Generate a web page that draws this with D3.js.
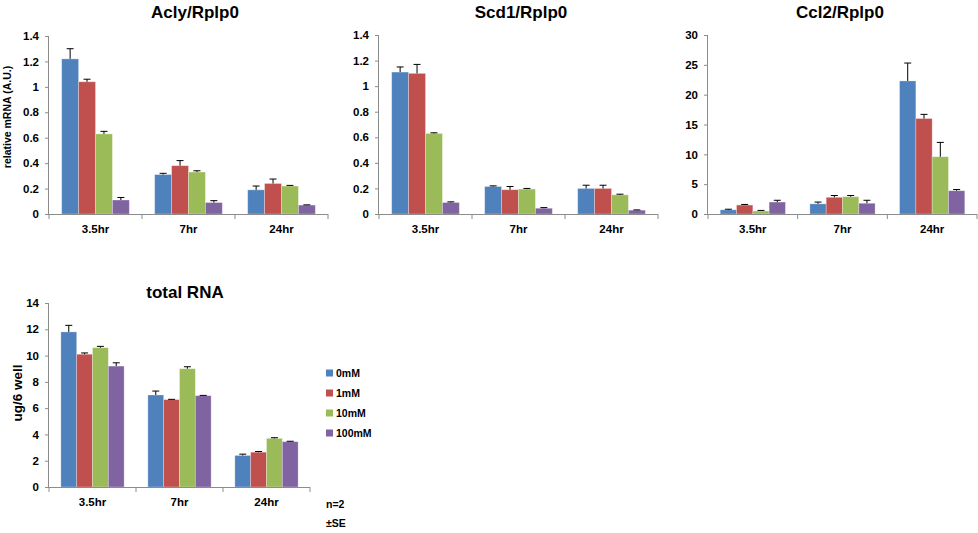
<!DOCTYPE html>
<html>
<head>
<meta charset="utf-8">
<script src="https://cdn.jsdelivr.net/npm/d3@7"></script>
<style>
  body { margin: 0; background: #fff; }
  svg { font-family: "Liberation Sans", Arial, sans-serif; font-weight: bold; }
</style>
</head>
<body>
<svg id="svg" width="978" height="533"></svg>
<script>
const categories = ["3.5hr", "7hr", "24hr"];
const series = ["0mM", "1mM", "10mM", "100mM"];
const colors = ["#4F81BD", "#C0504D", "#9BBB59", "#8064A2"];

// values per category, one per series; err = top of error bar
const aclyValues = [[1.22, 1.04, 0.63, 0.11], [0.31, 0.38, 0.33, 0.09], [0.19, 0.24, 0.22, 0.07]];
const aclyErr = [[1.30, 1.06, 0.65, 0.13], [0.32, 0.42, 0.34, 0.105], [0.22, 0.275, 0.225, 0.072]];
const scdValues = [[1.11, 1.10, 0.63, 0.09], [0.215, 0.19, 0.195, 0.045], [0.20, 0.20, 0.15, 0.03]];
const scdErr = [[1.15, 1.17, 0.635, 0.095], [0.22, 0.215, 0.20, 0.05], [0.225, 0.225, 0.155, 0.032]];
const ccl2Values = [[0.7, 1.5, 0.5, 2.0], [1.7, 2.8, 2.9, 1.8], [22.3, 16.0, 9.6, 3.9]];
const ccl2Err = [[0.8, 1.6, 0.6, 2.3], [2.0, 3.1, 3.1, 2.3], [25.3, 16.7, 12.0, 4.1]];
const rnaValues = [[11.8, 10.1, 10.6, 9.2], [7.0, 6.65, 9.0, 6.95], [2.4, 2.65, 3.7, 3.45]];
const rnaErr = [[12.3, 10.2, 10.7, 9.45], [7.3, 6.67, 9.15, 6.97], [2.5, 2.7, 3.75, 3.48]];

const svg = d3.select("#svg");

function drawPanel(p) {
  const g = svg.append("g");

  const x0 = d3.scaleBand().domain(categories).range([p.x0, p.x1]).padding(0);
  const x1 = d3.scaleBand().domain(series).range([0, x0.bandwidth()]).paddingInner(0).paddingOuter(0.75);
  const y = d3.scaleLinear().domain([0, p.max]).range([p.y0, p.y1]);

  // bars
  const groups = g.selectAll("g.cat")
    .data(categories)
    .enter()
    .append("g")
    .attr("transform", c => `translate(${x0(c)},0)`);

  groups.each(function (c, ci) {
    const grp = d3.select(this);
    const rows = series.map((s, si) => ({ s: s, si: si, v: p.values[ci][si], e: p.err[ci][si] }));
    grp.selectAll("rect")
      .data(rows)
      .enter()
      .append("rect")
      .attr("x", d => x1(d.s))
      .attr("y", d => y(d.v))
      .attr("width", x1.bandwidth())
      .attr("height", d => y(0) - y(d.v))
      .attr("fill", d => colors[d.si])
      .attr("stroke", "rgba(255,255,255,0.35)")
      .attr("stroke-width", 0.8);

    // error bars (upper only)
    const eb = grp.selectAll("g.err")
      .data(rows)
      .enter()
      .append("g")
      .attr("stroke", "#000")
      .attr("stroke-width", 1);
    eb.append("line")
      .attr("x1", d => x1(d.s) + x1.bandwidth() / 2)
      .attr("x2", d => x1(d.s) + x1.bandwidth() / 2)
      .attr("y1", d => y(d.v))
      .attr("y2", d => y(d.e));
    eb.append("line")
      .attr("x1", d => x1(d.s) + x1.bandwidth() / 2 - 3.5)
      .attr("x2", d => x1(d.s) + x1.bandwidth() / 2 + 3.5)
      .attr("y1", d => y(d.e))
      .attr("y2", d => y(d.e));
  });

  // y axis
  const yAxis = d3.axisLeft(y).tickValues(p.ticks).tickSize(4).tickPadding(6)
    .tickFormat(d => String(+d.toFixed(1)));
  const ya = g.append("g").attr("transform", `translate(${p.x0},0)`).call(yAxis);
  ya.select(".domain").attr("stroke", "#8c8c8c").attr("d", `M-0.5,${p.y0}V${p.y1}`);
  ya.selectAll(".tick line").attr("stroke", "#8c8c8c");
  ya.selectAll(".tick text").attr("fill", "#000").style("font-size", "11.5px").style("font-weight", "bold")
    .style("font-family", "'Liberation Sans', Arial, sans-serif");

  // x axis
  g.append("line")
    .attr("x1", p.x0).attr("x2", p.x1)
    .attr("y1", p.y0 + 0.5).attr("y2", p.y0 + 0.5)
    .attr("stroke", "#8c8c8c");
  g.selectAll("line.xt")
    .data(categories.concat(["end"]))
    .enter()
    .append("line")
    .attr("x1", (c, i) => i < categories.length ? x0(c) : p.x1)
    .attr("x2", (c, i) => i < categories.length ? x0(c) : p.x1)
    .attr("y1", p.y0)
    .attr("y2", p.y0 + 5)
    .attr("stroke", "#8c8c8c");
  g.selectAll("text.xl")
    .data(categories)
    .enter()
    .append("text")
    .attr("x", c => x0(c) + x0.bandwidth() / 2)
    .attr("y", p.y0 + 19)
    .attr("text-anchor", "middle")
    .style("font-size", "11.5px")
    .text(c => c);

  // title
  g.append("text")
    .attr("x", p.tx)
    .attr("y", p.ty)
    .attr("text-anchor", "middle")
    .style("font-size", "17px")
    .text(p.title);

  if (p.ylabel) {
    g.append("text")
      .attr("transform", `translate(${p.lx},${p.ly}) rotate(-90)`)
      .attr("text-anchor", "middle")
      .style("font-size", p.lsize)
      .text(p.ylabel);
  }
}

drawPanel({ title: "Acly/Rplp0", values: aclyValues, err: aclyErr, max: 1.4,
  ticks: [0, 0.2, 0.4, 0.6, 0.8, 1, 1.2, 1.4], x0: 49, x1: 328, y0: 214, y1: 36, tx: 195, ty: 18,
  ylabel: "relative mRNA (A.U.)", lx: 11, ly: 117, lsize: "10.5px" });
drawPanel({ title: "Scd1/Rplp0", values: scdValues, err: scdErr, max: 1.4,
  ticks: [0, 0.2, 0.4, 0.6, 0.8, 1, 1.2, 1.4], x0: 379, x1: 658, y0: 214, y1: 35, tx: 521, ty: 18 });
drawPanel({ title: "Ccl2/Rplp0", values: ccl2Values, err: ccl2Err, max: 30,
  ticks: [0, 5, 10, 15, 20, 25, 30], x0: 708, x1: 977, y0: 214, y1: 35, tx: 840, ty: 18 });
drawPanel({ title: "total RNA", values: rnaValues, err: rnaErr, max: 14,
  ticks: [0, 2, 4, 6, 8, 10, 12, 14], x0: 49, x1: 310, y0: 487, y1: 303, tx: 185, ty: 298,
  ylabel: "ug/6 well", lx: 22, ly: 393, lsize: "13.5px" });

// legend
const legend = svg.append("g");
const legendY = d3.scalePoint().domain(series).range([373, 433]);
legend.selectAll("rect")
  .data(series)
  .enter()
  .append("rect")
  .attr("x", 326)
  .attr("y", s => legendY(s) - 3.5)
  .attr("width", 7)
  .attr("height", 7)
  .attr("fill", (s, i) => colors[i]);
legend.selectAll("text")
  .data(series)
  .enter()
  .append("text")
  .attr("x", 336)
  .attr("y", s => legendY(s) + 4)
  .style("font-size", "10.5px")
  .text(s => s);

svg.append("text").attr("x", 326).attr("y", 508).style("font-size", "10.5px").text("n=2");
svg.append("text").attr("x", 326).attr("y", 527).style("font-size", "10.5px").text("±SE");
</script>
</body>
</html>
